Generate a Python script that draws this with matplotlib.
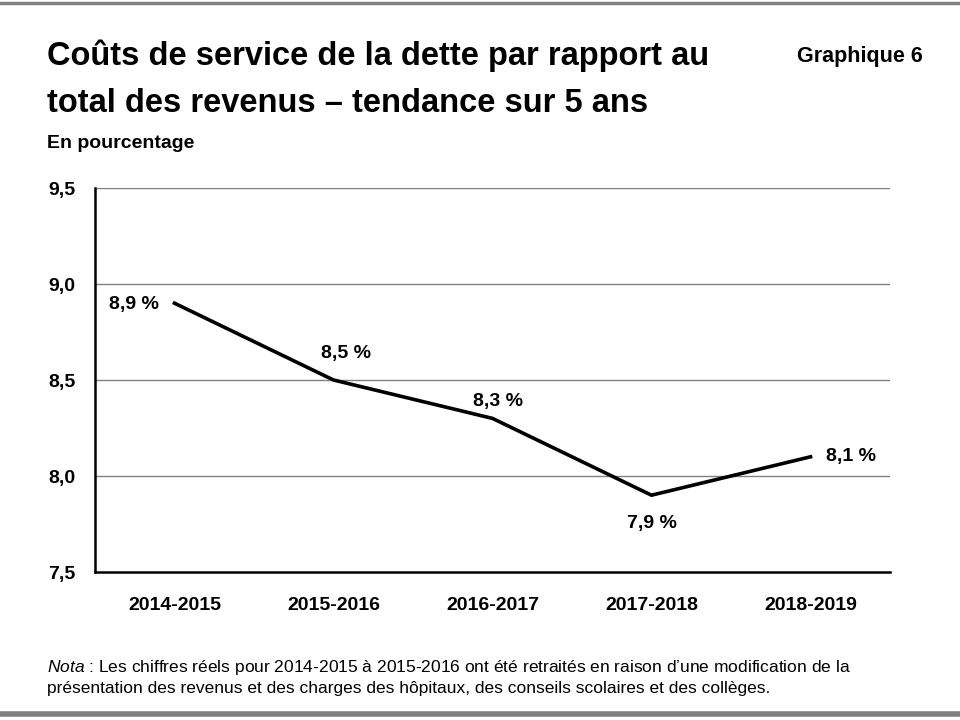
import numpy as np
import matplotlib as mpl
mpl.use('Agg')
import matplotlib.pyplot as plt

years = ['2014-2015', '2015-2016', '2016-2017', '2017-2018', '2018-2019']
values = [8.9, 8.5, 8.3, 7.9, 8.1]
value_labels = ['8,9 %', '8,5 %', '8,3 %', '7,9 %', '8,1 %']
yticks = [7.5, 8.0, 8.5, 9.0, 9.5]
ytick_labels = ['7,5', '8,0', '8,5', '9,0', '9,5']

plt.rcParams['font.family'] = ['Liberation Sans', 'DejaVu Sans']
plt.rcParams['mathtext.fontset'] = 'custom'
plt.rcParams['mathtext.it'] = 'Liberation Sans:italic'
plt.rcParams['mathtext.rm'] = 'Liberation Sans'

fig = plt.figure(figsize=(9.6, 7.2), dpi=100)
ax = fig.add_axes([95/960, 148/720, 795/960, 384/720])

x = np.arange(len(years))
ax.plot(x, values, color='black', lw=2.6, solid_joinstyle='miter')

ax.set_xlim(-0.5, 4.5)
ax.set_ylim(7.5, 9.5)
ax.set_yticks(yticks)
ax.set_yticklabels(ytick_labels, fontsize=14, fontweight='bold')
ax.set_xticks(x)
ax.set_xticklabels(years, fontsize=14, fontweight='bold')
ax.tick_params(axis='both', length=0)
ax.tick_params(axis='y', pad=14)
ax.tick_params(axis='x', pad=18)
for yl in yticks[1:]:
    ax.axhline(yl, color='#808080', lw=1, zorder=0)
for s in ['top', 'right']:
    ax.spines[s].set_visible(False)
ax.spines['left'].set_linewidth(1.8)
ax.spines['bottom'].set_linewidth(1.8)

# label placement: (dx points, dy points, ha, va)
offsets = [(-11, -1, 'right', 'center'), (9, 13, 'center', 'bottom'),
           (4, 6, 'center', 'bottom'), (0, -14, 'center', 'top'),
           (11, 0, 'left', 'center')]
for xi, v, lab, (dx, dy, ha, va) in zip(x, values, value_labels, offsets):
    ax.annotate(lab, (xi, v), xytext=(dx, dy), textcoords='offset points',
                ha=ha, va=va, fontsize=14, fontweight='bold')

fig.text(47/960, 1 - 65/720, 'Coûts de service de la dette par rapport au',
         fontsize=23.5, fontweight='bold', va='baseline', ha='left')
fig.text(47/960, 1 - 112/720, 'total des revenus – tendance sur 5 ans',
         fontsize=23.5, fontweight='bold', va='baseline', ha='left')
fig.text(923/960, 1 - 62/720, 'Graphique 6', fontsize=15.5, fontweight='bold', ha='right', va='baseline')
fig.text(47/960, 1 - 148/720, 'En pourcentage', fontsize=14, fontweight='bold', ha='left', va='baseline')
fig.text(47/960, 1 - 672/720,
         r'$\it{Nota}$ : Les chiffres réels pour 2014-2015 à 2015-2016 ont été retraités en raison d’une modification de la',
         fontsize=12.5, ha='left', va='baseline')
fig.text(47/960, 1 - 693/720,
         'présentation des revenus et des charges des hôpitaux, des conseils scolaires et des collèges.',
         fontsize=12.5, ha='left', va='baseline')

# frame lines
fig.add_artist(plt.Line2D([0, 1], [1 - 2.5/720, 1 - 2.5/720], color='#808080', lw=2.5))
fig.add_artist(plt.Line2D([0, 1], [1 - 714/720, 1 - 714/720], color='#808080', lw=4))

fig.savefig('out.png', dpi=100)
